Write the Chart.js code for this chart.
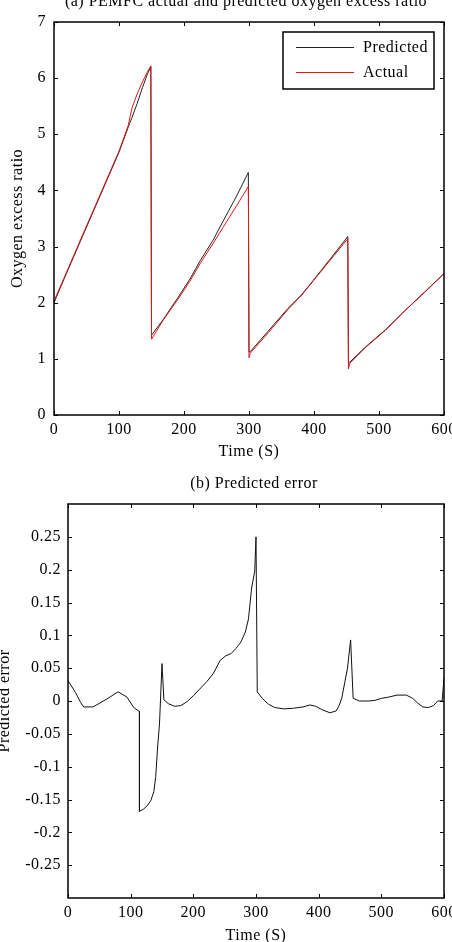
<!DOCTYPE html>
<html><head><meta charset="utf-8">
<script src="https://cdn.jsdelivr.net/npm/chart.js@4.4.1/dist/chart.umd.min.js"></script>
<style>
html,body{margin:0;padding:0;background:#fff;overflow:hidden}
canvas{display:block}
</style></head><body>
<canvas id="c1" width="452" height="460"></canvas>
<canvas id="c2" width="452" height="482"></canvas>
<script>
// (a) oxygen excess ratio
const tRatio=[0,15,40,70,100,114,120,128,136,144,149,150,168,190,209,225,245,260,280,299,300,302,330,360,380,399,425,452,453,455,480,510,540,570,600];
const predicted=[2.0,2.41,3.08,3.88,4.68,5.12,5.3,5.55,5.83,6.08,6.2,1.42,1.7,2.08,2.42,2.75,3.12,3.45,3.88,4.32,1.12,1.13,1.5,1.9,2.13,2.4,2.78,3.18,0.92,0.94,1.22,1.52,1.86,2.19,2.52];
const actual=[2.03,2.43,3.1,3.9,4.7,5.15,5.47,5.72,5.93,6.12,6.22,1.35,1.69,2.05,2.38,2.70,3.06,3.34,3.71,4.07,1.02,1.10,1.47,1.88,2.12,2.39,2.76,3.14,0.82,0.92,1.21,1.51,1.86,2.18,2.52];
// (b) predicted error
const tErr=[0,12,20,25,40,62,80,94,105,114,114,120,126,132,137,140,143,146,150,153,160,170,180,190,200,210,222,232,243,252,260,268,276,283,288,293,298,300,302,310,320,330,345,360,375,386,395,405,418,428,433,437,442,446,451,455,465,480,490,500,512,525,540,550,558,566,575,583,590,597,600];
const errVals=[0.031,0.013,-0.002,-0.009,-0.009,0.003,0.014,0.006,-0.01,-0.016,-0.168,-0.165,-0.16,-0.152,-0.138,-0.115,-0.07,-0.035,0.057,0.002,-0.004,-0.008,-0.007,-0.001,0.008,0.018,0.03,0.042,0.062,0.069,0.072,0.08,0.09,0.105,0.125,0.172,0.198,0.25,0.014,0.004,-0.005,-0.01,-0.012,-0.011,-0.009,-0.006,-0.008,-0.013,-0.018,-0.015,-0.006,0.005,0.03,0.05,0.093,0.004,0.0,0.0,0.001,0.004,0.006,0.009,0.009,0.004,-0.003,-0.009,-0.01,-0.007,0.0,0.0,0.035];
const timeTicks=[0,100,200,300,400,500,600];
const ratioTicks=[0,1,2,3,4,5,6,7];
const errTicks=[-0.25,-0.2,-0.15,-0.1,-0.05,0,0.05,0.1,0.15,0.2,0.25];
const errTickLabels=['-0.25','-0.2','-0.15','-0.1','-0.05','0','0.05','0.1','0.15','0.2','0.25'];

const FAM="'Liberation Serif','Times New Roman',serif";
const font={family:FAM,size:16};

// box, inward ticks on all four sides, panel title and (optionally) the legend
const frame={id:'frame',
 beforeUpdate(chart){chart.ctx.letterSpacing='0.5px';},
 beforeDraw(chart){chart.ctx.letterSpacing='0.5px';},
 afterDatasetsDraw(chart,args,o){
  const c=chart.ctx,a=chart.chartArea,sx=chart.scales.x,sy=chart.scales.y;
  c.save();c.strokeStyle='#000';c.lineWidth=1.5;
  c.strokeRect(a.left,a.top,a.right-a.left,a.bottom-a.top);
  c.lineWidth=1;c.beginPath();
  sx.ticks.forEach(t=>{const p=Math.round(sx.getPixelForValue(t.value))+0.5;c.moveTo(p,a.bottom);c.lineTo(p,a.bottom-4);c.moveTo(p,a.top);c.lineTo(p,a.top+4);});
  sy.ticks.forEach(t=>{const p=Math.round(sy.getPixelForValue(t.value))+0.5;c.moveTo(a.left,p);c.lineTo(a.left+4,p);c.moveTo(a.right,p);c.lineTo(a.right-4,p);});
  c.stroke();
  c.fillStyle='#000';c.font='16px '+FAM;c.textAlign='center';c.textBaseline='middle';
  c.fillText(o.title,(a.left+a.right)/2+o.titleDx,o.titleY);
  if(o.legend){
    const w=151,h=57,l=a.right-10-w,tp=a.top+10;
    c.fillStyle='#fff';c.fillRect(l,tp,w,h);
    c.lineWidth=1.5;c.strokeRect(l,tp,w,h);
    o.legend.forEach((i,k)=>{const ds=chart.data.datasets[i],y=tp+15+k*25;
      c.strokeStyle=ds.borderColor;c.lineWidth=1;c.beginPath();c.moveTo(l+13,y+0.5);c.lineTo(l+71,y+0.5);c.stroke();
      c.fillStyle='#000';c.textAlign='left';c.fillText(ds.label,l+80,y+1);});
  }
  c.restore();
}};

function axis(min,max,ticks,labels,title,isX,fit,tp,titlePad){
  return {type:'linear',min:min,max:max,
    afterBuildTicks:s=>{s.ticks=ticks.map(v=>({value:v}));},
    ticks:{autoSkip:false,maxRotation:0,padding:tp,color:'#000',font:font,callback:(v,i)=>labels[i]},
    grid:{display:false,drawTicks:false},border:{display:false},
    title:{display:true,text:title,color:'#000',font:font,padding:titlePad},
    afterFit:s=>{if(isX)s.height=fit;else s.width=fit;s.paddingLeft=0;s.paddingRight=0;s.paddingTop=0;s.paddingBottom=0;}};
}
function pts(t,v){return t.map((x,i)=>({x:x,y:v[i]}));}

new Chart(document.getElementById('c1'),{type:'line',
  data:{datasets:[
    {label:'Predicted',data:pts(tRatio,predicted),borderColor:'#222',borderWidth:1,pointRadius:0,order:1},
    {label:'Actual',data:pts(tRatio,actual),borderColor:'#e01818',borderWidth:1,pointRadius:0,order:0}]},
  options:{responsive:false,animation:false,layout:{padding:{left:0,right:8,top:22,bottom:0}},
    plugins:{legend:{display:false},tooltip:{enabled:false},
      frame:{title:'(a) PEMFC actual and predicted oxygen excess ratio',titleY:2,titleDx:-3,legend:[0,1]}},
    scales:{
      x:axis(0,600,timeTicks,timeTicks.map(String),'Time (S)',true,45,5,{top:0,bottom:-1.3}),
      y:axis(0,7,ratioTicks,ratioTicks.map(String),'Oxygen excess ratio',false,54,8,{top:8.4,bottom:0})}},
  plugins:[frame]});

new Chart(document.getElementById('c2'),{type:'line',
  data:{datasets:[
    {label:'Predicted error',data:pts(tErr,errVals),borderColor:'#111',borderWidth:1,pointRadius:0}]},
  options:{responsive:false,animation:false,layout:{padding:{left:0,right:8,top:44,bottom:0}},
    plugins:{legend:{display:false},tooltip:{enabled:false},
      frame:{title:'(b) Predicted error',titleY:24,titleDx:-2}},
    scales:{
      x:axis(0,600,timeTicks,timeTicks.map(String),'Time (S)',true,44,5,{top:0,bottom:-3.6}),
      y:axis(-0.3,0.3,errTicks,errTickLabels,'Predicted error',false,68,7,{top:-4.6,bottom:0})}},
  plugins:[frame]});
</script>
</body></html>
